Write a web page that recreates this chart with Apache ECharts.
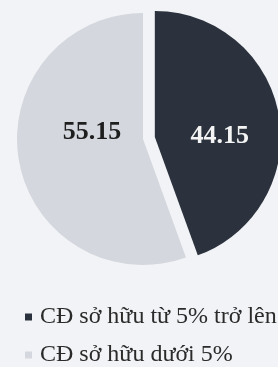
<!DOCTYPE html>
<html>
<head>
<meta charset="utf-8">
<script src="https://cdn.jsdelivr.net/npm/echarts@6/dist/echarts.min.js"></script>
<style>
html,body{margin:0;padding:0;background:#f2f3f6;}
#c{width:278px;height:367px;}
</style>
</head>
<body>
<div id="c"></div>
<script>
const categories = ['CĐ sở hữu từ 5% trở lên', 'CĐ sở hữu dưới 5%'];
const values = [44.15, 55.15];
const colors = ['#2b323d', '#d4d7dd'];
const labelColors = ['#f4f4f4', '#1e1e1e'];
const labelOffsets = [[0, 11], [14, -18]];

const chart = echarts.init(document.getElementById('c'));
chart.setOption({
  backgroundColor: '#f2f3f6',
  animation: false,
  legend: {
    orient: 'vertical',
    left: 25,
    top: 305,
    padding: 0,
    itemWidth: 7,
    itemHeight: 7,
    itemGap: 14,
    icon: 'rect',
    selectedMode: false,
    textStyle: { fontFamily: 'Liberation Serif', fontSize: 24, color: '#2a2a2a', padding: [0, 0, 0, 3] },
    data: categories
  },
  series: [{
    type: 'pie',
    center: [143, 139],
    radius: [0, 126],
    startAngle: 90,
    clockwise: true,
    selectedMode: 'single',
    selectedOffset: 12,
    label: {
      show: true,
      position: 'inside',
      fontFamily: 'Liberation Serif',
      fontWeight: 'bold',
      fontSize: 26,
      formatter: p => p.value.toFixed(2)
    },
    labelLine: { show: false },
    emphasis: { disabled: true },
    data: categories.map((n, i) => ({
      name: n,
      value: values[i],
      selected: i === 0,
      itemStyle: { color: colors[i] },
      label: { color: labelColors[i], offset: labelOffsets[i] },
      select: { label: { color: labelColors[i], offset: labelOffsets[i] } }
    }))
  }]
});
</script>
</body>
</html>
